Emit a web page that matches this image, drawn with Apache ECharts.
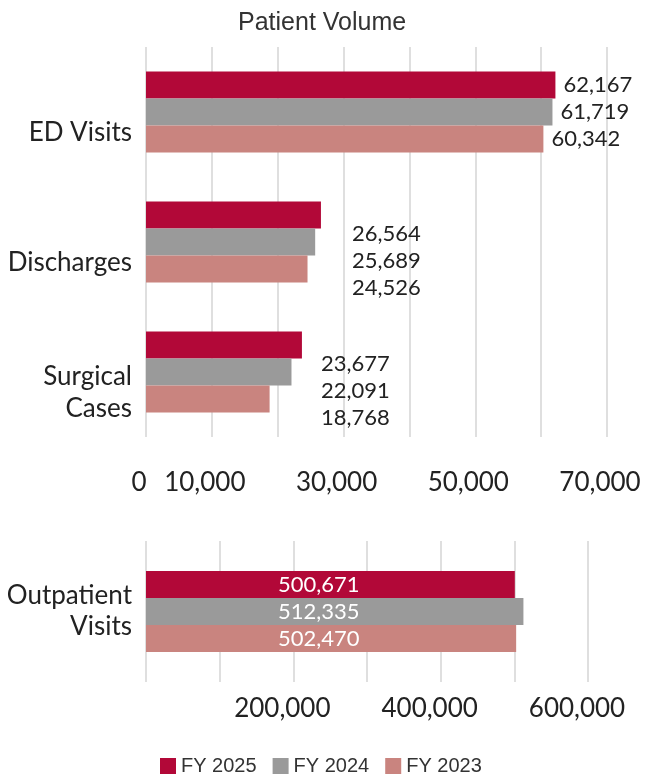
<!DOCTYPE html>
<html>
<head>
<meta charset="utf-8">
<script src="https://cdn.jsdelivr.net/npm/echarts@6/dist/echarts.min.js"></script>
<style>
  html, body { margin: 0; padding: 0; background: #fff; }
  #chart { width: 668px; height: 774px; }
</style>
</head>
<body>
<div id="chart"></div>
<script>
var categories = ['ED Visits', 'Discharges', 'Surgical\nCases']
var outCategories = ['Outpatient\nVisits']
var seriesNames = ['FY 2025', 'FY 2024', 'FY 2023']
var fy2025 = [62167, 26564, 23677]
var fy2024 = [61719, 25689, 22091]
var fy2023 = [60342, 24526, 18768]
var outpatient = [[500671], [512335], [502470]]
var topTicks = [0, 10000, 30000, 50000, 70000]
var bottomTicks = [200000, 400000, 600000]

var colors = ['#b20838', '#9a9a9a', '#c9847f']
var font = 'Lato'

// where the value labels sit for each category (the source draws them shifted)
var labelPlace = [
  { position: 'right', offset: [3, 0] },
  { position: 'insideLeft', offset: [201, 19] },
  { position: 'insideLeft', offset: [170, 19] }
]

var chart = echarts.init(document.getElementById('chart'))

function fmt(v) {
  return v.toLocaleString('en-US')
}

var topValues = [fy2025, fy2024, fy2023]
var series = []
topValues.forEach(function (vals, i) {
  series.push({
    name: seriesNames[i],
    type: 'bar',
    xAxisIndex: 0,
    yAxisIndex: 0,
    barWidth: 27,
    barGap: '0%',
    itemStyle: { color: colors[i] },
    label: {
      show: true,
      color: '#222',
      fontFamily: font,
      fontSize: 22,
      formatter: function (p) { return fmt(p.value) }
    },
    data: vals.map(function (v, j) {
      return { value: v, label: labelPlace[j] }
    })
  })
})
outpatient.forEach(function (vals, i) {
  series.push({
    name: seriesNames[i],
    type: 'bar',
    xAxisIndex: 1,
    yAxisIndex: 1,
    barWidth: 27,
    barGap: '0%',
    itemStyle: { color: colors[i] },
    label: {
      show: true,
      position: 'insideLeft',
      offset: [127, 0],
      color: '#fff',
      fontFamily: font,
      fontSize: 22,
      formatter: function (p) { return fmt(p.value) }
    },
    data: vals
  })
})

var catText = { fontFamily: font, fontSize: 26, lineHeight: 32, color: '#222' }

var option = {
  backgroundColor: '#fff',
  animation: false,
  title: {
    text: 'Patient Volume',
    left: 233,
    top: 6,
    textStyle: {
      fontFamily: 'Liberation Sans',
      fontWeight: 'normal',
      fontSize: 25,
      color: '#333'
    }
  },
  legend: {
    left: 155,
    top: 751,
    itemWidth: 16,
    itemHeight: 16,
    itemGap: 16,
    icon: 'rect',
    data: seriesNames,
    textStyle: {
      fontFamily: 'Liberation Sans',
      fontSize: 20,
      color: '#333'
    }
  },
  grid: [
    { left: 146, right: 61, top: 47, height: 390 },
    { left: 146, right: 80, top: 541, height: 141 }
  ],
  xAxis: [
    {
      gridIndex: 0,
      type: 'value',
      min: 0,
      max: 70000,
      interval: 10000,
      axisLine: { show: false },
      axisTick: { show: false },
      splitLine: { lineStyle: { color: '#d4d4d4', width: 1.5 } },
      axisLabel: {
        margin: 33,
        formatter: function (v) { return topTicks.indexOf(v) >= 0 ? '{s|' + fmt(v) + '}' : '' },
        rich: {
          s: { fontFamily: font, fontSize: 26, color: '#222', padding: [0, 14, 0, 0] }
        }
      }
    },
    {
      gridIndex: 1,
      type: 'value',
      min: 0,
      max: 600000,
      interval: 100000,
      axisLine: { show: false },
      axisTick: { show: false },
      splitLine: { lineStyle: { color: '#d4d4d4', width: 1.5 } },
      axisLabel: {
        margin: 14,
        formatter: function (v) { return bottomTicks.indexOf(v) >= 0 ? '{s|' + fmt(v) + '}' : '' },
        rich: {
          s: { fontFamily: font, fontSize: 26, color: '#222', padding: [0, 22, 0, 0] }
        }
      }
    }
  ],
  yAxis: [
    {
      gridIndex: 0,
      type: 'category',
      inverse: true,
      data: categories,
      axisLine: { show: false },
      axisTick: { show: false },
      axisLabel: {
        margin: 14,
        formatter: function (v) {
          return '{g| }\n' + v.split('\n').map(function (l) { return '{t|' + l + '}' }).join('\n')
        },
        rich: {
          g: { fontSize: 10, lineHeight: 42 },
          t: catText
        }
      }
    },
    {
      gridIndex: 1,
      type: 'category',
      inverse: true,
      data: outCategories,
      axisLine: { show: false },
      axisTick: { show: false },
      axisLabel: {
        margin: 14,
        fontFamily: font,
        fontSize: 26,
        color: '#222',
        lineHeight: 31
      }
    }
  ],
  series: series
}

chart.setOption(option)
</script>
</body>
</html>
